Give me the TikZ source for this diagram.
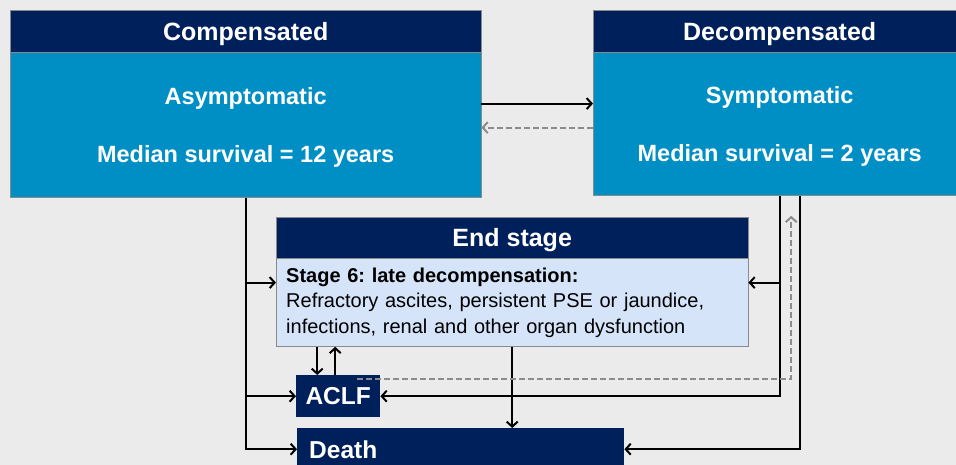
\documentclass[tikz,border=0pt]{standalone}
\usepackage{fontspec}
\setmainfont{Liberation Sans}
\usetikzlibrary{positioning,arrows.meta}
\definecolor{navy}{HTML}{00205B}
\definecolor{stageblue}{HTML}{008FC5}
\definecolor{endblue}{HTML}{D6E4FA}
\definecolor{bggray}{HTML}{EBEBEB}
\definecolor{edgegray}{HTML}{8A8A8A}
\definecolor{backgray}{HTML}{8C8C8C}
\frenchspacing
\begin{document}
\begin{tikzpicture}[
    x=1pt, y=-1pt,
    hdr/.style={draw=edgegray, fill=navy, text=white, inner sep=0pt, text depth=0pt,
                font=\fontsize{25}{28}\selectfont\bfseries},
    stagebox/.style={draw=edgegray, fill=stageblue, text=white, inner sep=0pt,
                text depth=0pt, align=center,
                font=\fontsize{23.5}{58}\selectfont\bfseries},
    endbox/.style={draw=edgegray, fill=endblue, inner xsep=10pt, inner ysep=0pt,
                align=left, font=\fontsize{20}{25.5}\selectfont},
    outcome/.style={fill=navy, text=white, inner sep=0pt, text depth=0pt,
                font=\fontsize{24.5}{28}\selectfont\bfseries},
    link/.style={-{Straight Barb[length=5pt,width=11pt]}, line width=2pt},
    back/.style={link, backgray, dash pattern=on 6pt off 3pt}
  ]
  % page
  \fill[bggray] (0,0) rectangle (956,465);
  \useasboundingbox (0,0) rectangle (956,465);
  % compensated
  \node[hdr, minimum width=471, minimum height=42, anchor=north west]
    (comphdr) at (10,10) {Compensated};
  \node[stagebox, minimum width=471, minimum height=145, below=0pt of comphdr]
    (comp) {Asymptomatic\\Median survival = 12 years};
  % decompensated
  \node[hdr, minimum width=373, minimum height=42, anchor=north west]
    (decomphdr) at (593,10) {Decompensated};
  \node[stagebox, minimum width=373, minimum height=143, below=0pt of decomphdr]
    (decomp) {Symptomatic\\Median survival = 2 years};
  % end stage
  \node[hdr, minimum width=472, minimum height=41, anchor=north west]
    (endhdr) at (276,217) {End stage};
  \node[endbox, text width=452, minimum height=88, below=0pt of endhdr]
    (endbody) {\textbf{Stage 6: late decompensation:}\\
               Refractory ascites, persistent PSE or jaundice,\\
               infections, renal and other organ dysfunction};
  % outcomes
  \node[outcome, minimum width=84, minimum height=42, anchor=north west]
    (aclf) at (296,375) {ACLF};
  \node[outcome, text width=303, inner xsep=12pt, minimum height=42, align=left,
    anchor=north west] (death) at (297,428) {Death};
  \coordinate (backtail) at ([xshift=-23pt,yshift=-4pt]aclf.north east);
  \coordinate (backtip) at ([xshift=11.5pt,yshift=-20pt]decomp.south);
  % compensated <-> decompensated
  \draw[link] ([yshift=21.5pt]comp.east) -- ([yshift=21.5pt]comp.east -| decomp.west);
  \draw[back] ([yshift=-2.5pt]comp.east -| decomp.west) -- ([yshift=-2.5pt]comp.east);
  % from compensated
  \draw[link] (comp.south) |- ([yshift=20pt]endbody.west);
  \draw[link] (comp.south) |- (aclf.west);
  \draw[link] (comp.south) |- (death.west);
  % from decompensated
  \draw[link] (decomp.south) |- ([yshift=20pt]endbody.east);
  \draw[link] (decomp.south) |- (aclf.east);
  \draw[link] ([xshift=20pt]decomp.south) |- (death.east);
  % end stage <-> ACLF, death
  \draw[link] ([xshift=-21pt]aclf.north |- endbody.south) -- ([xshift=-21pt]aclf.north);
  \draw[link] ([xshift=-3pt]aclf.north) -- ([xshift=-3pt]aclf.north |- endbody.south);
  \draw[link] (endbody.south) -- (endbody.south |- death.north);
  % recompensation
  \draw[back] (backtail) -| (backtip);
\end{tikzpicture}
\end{document}
